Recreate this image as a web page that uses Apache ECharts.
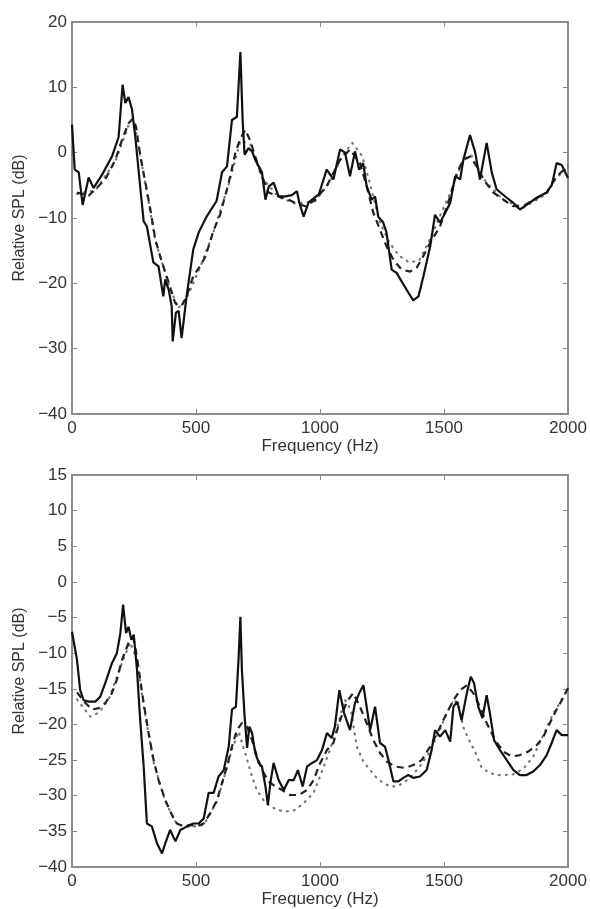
<!DOCTYPE html>
<html>
<head>
<meta charset="utf-8">
<script src="https://cdn.jsdelivr.net/npm/echarts@6/dist/echarts.min.js"></script>
<style>
  html, body { margin: 0; padding: 0; background: #fff; }
  #main { width: 590px; height: 909px; }
</style>
</head>
<body>
<div id="main"></div>
<script>
// top panel, solid (measured)
var topSolidHz = [0, 11, 27, 43, 67, 87, 121, 161, 188, 204, 215, 228, 242, 255, 276, 289, 302, 328, 349, 368, 376, 390, 402, 406, 419, 430, 442, 462, 489, 511, 544, 583, 605, 625, 645, 665, 679, 688, 696, 712, 726, 739, 766, 780, 793, 813, 833, 860, 887, 907, 917, 934, 954, 995, 1027, 1054, 1081, 1101, 1121, 1141, 1158, 1174, 1188, 1208, 1222, 1235, 1255, 1268, 1289, 1309, 1329, 1356, 1376, 1397, 1417, 1444, 1464, 1484, 1505, 1525, 1545, 1565, 1578, 1605, 1626, 1645, 1672, 1693, 1712, 1753, 1780, 1806, 1833, 1874, 1914, 1935, 1954, 1975, 2000];
var topSolidDb = [4.3, -2.6, -3, -8, -3.8, -5.4, -3.4, -0.6, 2.4, 10.4, 7.6, 8.5, 6.6, 2.5, -5.6, -10.5, -11.3, -16.8, -17.4, -22, -19.4, -21, -23.5, -28.9, -24.5, -24.2, -28.4, -22, -14.8, -12.2, -9.7, -7.4, -3, -2.1, 5, 5.5, 15.4, 5, -0.3, 0.7, 0.2, -1.1, -3, -7.2, -5.2, -4.6, -6.7, -6.7, -6.5, -5.9, -7.7, -9.8, -7.6, -6.4, -2.6, -4.1, 0.5, 0, -3.6, 0.2, -2.6, -1.6, -5.1, -7.2, -6.7, -9.8, -10.7, -12.2, -17.9, -18.4, -19.7, -21.4, -22.6, -22, -18.9, -14.4, -9.5, -10.7, -9.2, -7.7, -3.6, -4.1, -1.1, 2.7, 0, -4.1, 1.5, -3.1, -5.6, -6.9, -7.7, -8.7, -8, -6.9, -6.1, -4.9, -1.6, -1.9, -3.9];

// top panel, dashed
var topDashHz = [20, 67, 94, 134, 175, 202, 228, 245, 258, 276, 296, 316, 336, 363, 390, 415, 428, 446, 462, 489, 516, 538, 570, 597, 632, 659, 679, 699, 719, 739, 766, 793, 833, 874, 900, 941, 981, 1027, 1081, 1121, 1161, 1188, 1215, 1242, 1269, 1296, 1329, 1363, 1390, 1417, 1444, 1484, 1525, 1552, 1578, 1605, 1632, 1659, 1699, 1740, 1780, 1820, 1861, 1914, 1954, 2000];
var topDashDb = [-6.1, -6.6, -5.6, -4.1, -1.1, 2, 4.5, 5.2, 4, -0.6, -4.6, -8.7, -13.3, -16.8, -19.9, -22.9, -23.5, -23.2, -22, -18.9, -17.4, -15.9, -12, -9.5, -4.6, 0, 2.2, 3.5, 1.8, -0.6, -3.6, -6.1, -6.7, -7.2, -7.7, -8.2, -7.2, -5.1, -1.1, 0.5, -1.6, -5.1, -9.2, -11.8, -14.4, -16.4, -17.9, -18.2, -17.6, -15.8, -13.8, -11.3, -6.7, -3.1, -1.1, -0.6, -2.1, -4.1, -6.1, -7.2, -8.2, -8.2, -7.2, -6.1, -3.6, -2.1];

// top panel, dotted
var topDotHz = [20, 94, 175, 228, 255, 296, 336, 390, 428, 462, 516, 570, 632, 679, 719, 766, 833, 900, 981, 1040, 1090, 1130, 1170, 1200, 1240, 1280, 1320, 1360, 1400, 1440, 1480, 1525, 1578, 1610, 1659, 1740, 1820, 1914, 1954, 2000];
var topDotDb = [-6.3, -5.8, -1.3, 4.2, 3.8, -4.8, -13.5, -20.2, -23.8, -22.3, -17.6, -12.2, -4.8, 1.8, 1.3, -3.8, -6.8, -7.8, -7.4, -4.5, -0.5, 1.5, -0.5, -4.5, -10.5, -13.8, -15.8, -16.8, -16.5, -13.5, -10, -6.2, -1, -0.4, -4, -7.3, -8.4, -6.3, -3.8, -2.3];

// bottom panel, solid
var botSolidHz = [0, 20, 33, 47, 67, 94, 114, 134, 161, 181, 195, 206, 218, 228, 239, 249, 262, 275, 289, 302, 322, 343, 363, 376, 396, 417, 437, 464, 490, 511, 531, 551, 571, 591, 612, 632, 645, 661, 672, 679, 685, 696, 706, 715, 726, 739, 753, 766, 780, 790, 800, 813, 833, 854, 874, 894, 911, 930, 948, 968, 988, 1008, 1028, 1047, 1060, 1078, 1097, 1121, 1141, 1161, 1175, 1188, 1202, 1222, 1242, 1262, 1276, 1296, 1316, 1336, 1356, 1376, 1403, 1430, 1450, 1464, 1484, 1505, 1525, 1538, 1554, 1571, 1592, 1608, 1621, 1638, 1655, 1672, 1685, 1702, 1726, 1753, 1780, 1806, 1833, 1860, 1887, 1914, 1934, 1954, 1975, 2000];
var botSolidDb = [-7, -10.9, -15.2, -16.6, -16.8, -16.8, -16.1, -14.2, -11.4, -10, -7.2, -3.2, -7.2, -6.3, -8.1, -7.4, -12.3, -19.4, -25.9, -33.9, -34.3, -36.7, -38.1, -36.7, -34.8, -36.4, -34.8, -34.3, -33.9, -33.9, -33.2, -29.6, -29.6, -27.3, -26.4, -23.1, -17.9, -17.5, -10.5, -4.9, -12.3, -18.9, -23.3, -20.3, -21.2, -24, -25.4, -25.9, -28.7, -31.3, -28.2, -25.4, -27.8, -29.2, -27.8, -27.8, -26.4, -28.7, -25.9, -25.4, -25, -23.6, -21.2, -21.9, -20.3, -15.2, -18.4, -20.8, -17, -15.4, -14.5, -17.5, -20.8, -17.5, -22.6, -23.1, -25, -28, -28, -27.5, -27.1, -27.5, -27.3, -26.4, -23.6, -20.8, -21.7, -20.8, -22.4, -17.5, -16.8, -19.4, -15.6, -13.3, -14.2, -17.5, -19.1, -15.9, -18.4, -22.2, -23.6, -25, -26.4, -27.1, -27.1, -26.6, -25.7, -24.3, -22.6, -20.8, -21.5, -21.5];

// bottom panel, dashed
var botDashHz = [20, 54, 81, 108, 134, 161, 181, 202, 222, 235, 249, 262, 275, 289, 309, 329, 349, 376, 403, 423, 450, 477, 504, 531, 558, 585, 605, 625, 645, 665, 685, 706, 726, 746, 766, 793, 820, 847, 880, 914, 948, 974, 1001, 1028, 1054, 1081, 1108, 1134, 1161, 1188, 1215, 1242, 1269, 1302, 1343, 1376, 1410, 1444, 1478, 1511, 1538, 1565, 1592, 1618, 1645, 1672, 1706, 1739, 1773, 1806, 1840, 1874, 1901, 1927, 1954, 1975, 2000];
var botDashDb = [-15.5, -17, -17.9, -17.7, -17, -15.6, -13.7, -10.9, -9.1, -7.9, -8.1, -10.5, -13.7, -17, -21.2, -25, -27.8, -30.6, -32.7, -33.9, -34.3, -34.1, -34.3, -33.9, -32.4, -30.6, -28.2, -25.9, -23.1, -20.8, -19.8, -20.3, -22.2, -24.5, -26.4, -28, -28.7, -29.2, -29.9, -29.9, -29.2, -27.8, -25.4, -23.6, -22.6, -19.4, -16.8, -15.6, -17.5, -19.8, -22.2, -24, -25.2, -25.9, -26.1, -25.7, -25, -23.1, -20.8, -18.4, -16.6, -15.2, -14.5, -15.6, -17.5, -19.8, -22.2, -23.8, -24.5, -24.3, -23.8, -22.9, -21.7, -19.8, -17.9, -16.6, -14.9];

// bottom panel, dotted
var botDotHz = [20, 74, 110, 150, 200, 235, 262, 289, 329, 376, 423, 477, 531, 585, 625, 645, 672, 698, 726, 745, 780, 826, 866, 901, 941, 974, 1000, 1040, 1074, 1100, 1125, 1148, 1175, 1202, 1229, 1255, 1282, 1309, 1336, 1363, 1400, 1440, 1480, 1510, 1540, 1560, 1577, 1598, 1625, 1652, 1685, 1712, 1746, 1779, 1820, 1860, 1900, 1940, 1970, 2000];
var botDotDb = [-16.5, -18.9, -18.3, -16.3, -11.5, -8.5, -11, -17.5, -25.3, -30.8, -34, -34.4, -34.1, -30.8, -26, -23.5, -21, -24, -27.3, -29.2, -31, -32, -32.2, -32, -30.8, -29.6, -27.3, -23.6, -19.8, -16.5, -18, -23.1, -25.2, -26.4, -27.5, -28.2, -28.7, -28.7, -28.2, -27.5, -26, -24, -21, -18.5, -16.5, -17.5, -20.3, -22, -23.8, -26.1, -26.8, -27.1, -27.1, -27, -26.2, -24.5, -21.5, -18.5, -16.8, -15];

var xTicks = [0, 500, 1000, 1500, 2000];

function zip(xs, ys) {
  var out = [];
  for (var i = 0; i < xs.length; i++) out.push([xs[i], ys[i]]);
  return out;
}

var frame = '#8c8c8c';
var font = 'Liberation Sans';
var minus = function (v) { return String(v).replace('-', '\u2212'); };
var plain = function (v) { return String(v); };

function xAx(gi, bottom) {
  return {
    gridIndex: gi, type: 'value', min: xTicks[0], max: xTicks[xTicks.length - 1], interval: 500,
    position: bottom ? 'bottom' : 'top',
    name: bottom ? 'Frequency (Hz)' : '', nameLocation: 'middle', nameGap: 23,
    nameTextStyle: { fontFamily: font, fontSize: 17, color: '#333' },
    axisLine: { show: true, onZero: false, lineStyle: { color: frame, width: 2 } },
    axisTick: { show: true, inside: true, length: 5, lineStyle: { color: frame } },
    axisLabel: { show: bottom, margin: 6, fontFamily: font, fontSize: 17, color: '#333', formatter: plain },
    splitLine: { show: false }
  };
}
function yAx(gi, left, max, step) {
  return {
    gridIndex: gi, type: 'value', min: -40, max: max, interval: step,
    position: left ? 'left' : 'right',
    name: left ? 'Relative SPL (dB)' : '', nameLocation: 'middle', nameGap: 44,
    nameTextStyle: { fontFamily: font, fontSize: 16, color: '#333' },
    axisLine: { show: true, onZero: false, lineStyle: { color: frame, width: 2 } },
    axisTick: { show: true, inside: true, length: 5, lineStyle: { color: frame } },
    axisLabel: { show: left, margin: 5, fontFamily: font, fontSize: 17, color: '#333', formatter: minus },
    splitLine: { show: false }
  };
}

function line(data, xi, yi, kind) {
  var ls = { color: '#111', width: 2.2, type: 'solid' };
  if (kind === 'dash') ls = { color: '#222', width: 2.2, type: [7, 5] };
  if (kind === 'dot') ls = { color: '#777', width: 2.2, type: [1, 6], cap: 'round' };
  return {
    type: 'line', xAxisIndex: xi, yAxisIndex: yi, data: data,
    showSymbol: false, symbol: 'none', lineStyle: ls, z: kind === 'solid' ? 3 : 2
  };
}

var myChart = echarts.init(document.getElementById('main'));
var option = {
  animation: false,
  backgroundColor: '#fff',
  grid: [
    { left: 72, top: 22, width: 496, height: 392 },
    { left: 72, top: 475, width: 496, height: 392 }
  ],
  xAxis: [xAx(0, true), xAx(0, false), xAx(1, true), xAx(1, false)],
  yAxis: [yAx(0, true, 20, 10), yAx(0, false, 20, 10), yAx(1, true, 15, 5), yAx(1, false, 15, 5)],
  series: [
    line(zip(topDotHz, topDotDb), 0, 0, 'dot'),
    line(zip(topDashHz, topDashDb), 0, 0, 'dash'),
    line(zip(topSolidHz, topSolidDb), 0, 0, 'solid'),
    line(zip(botDotHz, botDotDb), 2, 2, 'dot'),
    line(zip(botDashHz, botDashDb), 2, 2, 'dash'),
    line(zip(botSolidHz, botSolidDb), 2, 2, 'solid')
  ]
};
myChart.setOption(option);
</script>
</body>
</html>
